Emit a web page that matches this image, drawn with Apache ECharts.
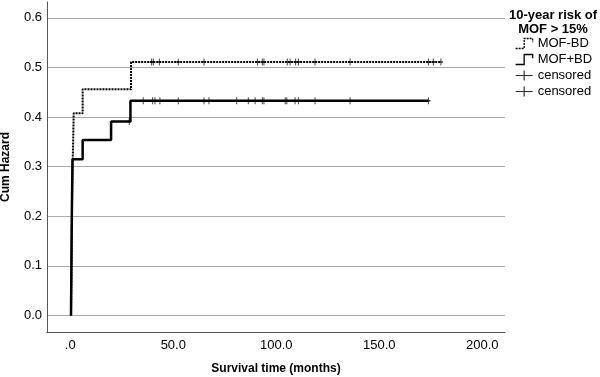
<!DOCTYPE html>
<html>
<head>
<meta charset="utf-8">
<script src="https://cdn.jsdelivr.net/npm/echarts@6/dist/echarts.min.js"></script>
<style>
  html, body { margin: 0; padding: 0; background: #fff; }
  #main { width: 600px; height: 377px; }
</style>
</head>
<body>
<div id="main"></div>
<script>
// cumulative hazard steps [months, cum hazard]
var stepsMinusBD = [[0.35, 0], [0.55, 0.07], [0.75, 0.17], [0.9, 0.25], [1.1, 0.3], [1.4, 0.35],
  [1.65, 0.4075], [6.0, 0.456], [29.5, 0.511], [180.0, 0.511]];
var stepsPlusBD = [[0.35, 0], [0.5, 0.08], [0.65, 0.16], [0.8, 0.22], [0.95, 0.27], [1.07, 0.315],
  [6.0, 0.354], [19.8, 0.391], [29.2, 0.433], [173.8, 0.433]];
// censored times (months)
var censorMinusBD = [39.5, 40.3, 43.2, 52.4, 64.9, 90.8, 93.2, 94.0, 105.3, 106.7, 109.4, 110.7,
  118.8, 135.8, 173.8, 176.2, 179.9];
var censorPlusBD = [28.6, 35.4, 40.0, 41.1, 43.5, 52.4, 64.9, 67.3, 80.8, 86.4, 89.7, 93.2, 94.0,
  104.3, 105.1, 109.1, 110.7, 118.8, 135.8, 173.8];
var xTicks = [0, 50, 100, 150, 200];
var yTicks = [0, 0.1, 0.2, 0.3, 0.4, 0.5, 0.6];

// level of the step curve at time t
function levelAt(steps, t) {
  var y = steps[0][1];
  for (var i = 0; i < steps.length; i++) {
    if (steps[i][0] <= t) y = steps[i][1];
  }
  return y;
}
function censorPoints(steps, times) {
  return times.map(function (t) { return [t, levelAt(steps, t)]; });
}

var font = 'Liberation Sans, Arial, sans-serif';
var plusPath = 'path://M0,5 L10,5 M5,0 L5,10';

var chart = echarts.init(document.getElementById('main'));
chart.setOption({
  animation: false,
  title: {
    text: '10-year risk of\nMOF > 15%',
    left: 548,
    top: 3,
    textAlign: 'center',
    textStyle: { fontFamily: font, fontSize: 13, fontWeight: 'bold', color: '#000', lineHeight: 14.5 }
  },
  legend: {
    orient: 'vertical',
    left: 515,
    top: 37,
    padding: 0,
    itemWidth: 17,
    itemHeight: 10,
    itemGap: 3,
    symbolKeepAspect: false,
    textStyle: { fontFamily: font, fontSize: 13, color: '#000' },
    formatter: function (name) { return name.indexOf('censored') === 0 ? 'censored' : name; },
    data: [
      { name: 'MOF-BD', icon: 'path://M0,10 L5,10 L5,2 L10,2 L10,5',
        itemStyle: { color: 'transparent', borderColor: '#000', borderWidth: 1.3, borderType: [2, 1] } },
      { name: 'MOF+BD', icon: 'path://M0,10 L5,10 L5,2 L10,2 L10,5',
        itemStyle: { color: 'transparent', borderColor: '#000', borderWidth: 1.3, borderType: 'solid' } },
      { name: 'censored1', icon: 'path://M0,5 L20,5 M10,0 L10,10',
        itemStyle: { color: 'transparent', borderColor: '#000', borderWidth: 1.2 } },
      { name: 'censored2', icon: 'path://M0,5 L20,5 M10,0 L10,10',
        itemStyle: { color: 'transparent', borderColor: '#000', borderWidth: 1.2 } }
    ]
  },
  grid: { left: 47, right: 95, top: 2, bottom: 45, outerBoundsMode: 'none' },
  xAxis: {
    type: 'value',
    min: -11.3,
    max: 211,
    name: 'Survival time (months)',
    nameLocation: 'middle',
    nameGap: 31,
    nameTextStyle: { fontFamily: font, fontSize: 12, fontWeight: 'bold', color: '#000' },
    axisLine: { onZero: false, lineStyle: { color: '#555', width: 1 } },
    axisTick: { show: false, customValues: xTicks },
    splitLine: { show: false },
    axisLabel: {
      customValues: xTicks,
      margin: 7,
      fontFamily: font, fontSize: 13, color: '#000',
      formatter: function (v) { return v === 0 ? '.0' : v.toFixed(1); }
    }
  },
  yAxis: {
    type: 'value',
    min: -0.0333,
    max: 0.632,
    name: 'Cum Hazard',
    nameLocation: 'middle',
    nameGap: 35,
    nameTextStyle: { fontFamily: font, fontSize: 12, fontWeight: 'bold', color: '#000' },
    axisLine: { show: true, onZero: false, lineStyle: { color: '#555', width: 1 } },
    axisTick: { show: false, customValues: yTicks },
    splitLine: { show: true, lineStyle: { color: '#ababab', width: 1 } },
    axisLabel: {
      customValues: yTicks,
      margin: 5,
      fontFamily: font, fontSize: 13, color: '#000',
      formatter: function (v) { return v.toFixed(1); }
    }
  },
  series: [
    {
      name: 'MOF-BD',
      type: 'line',
      step: 'end',
      symbol: 'none',
      data: stepsMinusBD,
      itemStyle: { color: '#000' },
      lineStyle: { color: '#000', width: 2, type: [2, 1] },
      z: 2
    },
    {
      name: 'MOF+BD',
      type: 'line',
      step: 'end',
      symbol: 'none',
      data: stepsPlusBD,
      itemStyle: { color: '#000' },
      lineStyle: { color: '#000', width: 2.5 },
      z: 3
    },
    {
      name: 'censored1',
      type: 'scatter',
      symbol: plusPath,
      symbolSize: [4, 7],
      symbolKeepAspect: false,
      data: censorPoints(stepsMinusBD, censorMinusBD),
      itemStyle: { color: 'transparent', borderColor: '#000', borderWidth: 1.2 },
      z: 4
    },
    {
      name: 'censored2',
      type: 'scatter',
      symbol: plusPath,
      symbolSize: [4, 7],
      symbolKeepAspect: false,
      data: censorPoints(stepsPlusBD, censorPlusBD),
      itemStyle: { color: 'transparent', borderColor: '#000', borderWidth: 1.2 },
      z: 4
    }
  ]
});
</script>
</body>
</html>
